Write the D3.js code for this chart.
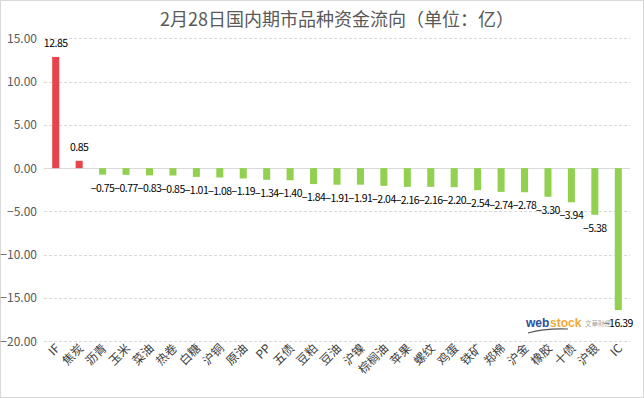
<!DOCTYPE html>
<html><head><meta charset="utf-8">
<script src="https://cdn.jsdelivr.net/npm/d3@7/dist/d3.min.js"></script>
<style>body{margin:0;background:#fff}svg{display:block}</style>
</head><body><svg id="c" width="644" height="398"></svg>
<script>
const categories = ["IF","焦炭","沥青","玉米","菜油","热卷","白糖","沪铜","原油","PP","五债","豆粕","豆油","沪镍","棕榈油","苹果","螺纹","鸡蛋","铁矿","郑棉","沪金","橡胶","十债","沪银","IC"];
const values = [12.85,0.85,-0.75,-0.77,-0.83,-0.85,-1.01,-1.08,-1.19,-1.34,-1.40,-1.84,-1.91,-1.91,-2.04,-2.16,-2.16,-2.20,-2.54,-2.74,-2.78,-3.30,-3.94,-5.38,-16.39];
const yTicks = [15,10,5,0,-5,-10,-15,-20];
const title = "2月28日国内期市品种资金流向（单位：亿）";

const svg = d3.select("#c");
const font = "'Noto Sans CJK SC','Microsoft YaHei',sans-serif";
svg.append("rect").attr("x",0.5).attr("y",0.5).attr("width",643).attr("height",397)
  .attr("fill","#fff").attr("stroke","#d9d9d9");

const x = d3.scaleBand().domain(categories).range([44,630]).paddingInner(0.7).paddingOuter(0.35);
const y = d3.scaleLinear().domain([-20,15]).range([341.3,38.3]);

// grid
svg.append("g").selectAll("line").data(yTicks.filter(d=>d!==0)).join("line")
  .attr("x1",44).attr("x2",630).attr("y1",d=>Math.round(y(d))+0.5).attr("y2",d=>Math.round(y(d))+0.5)
  .attr("stroke","#d9d9d9").attr("stroke-dasharray","3,2");
svg.append("line").attr("x1",44).attr("x2",630).attr("y1",Math.round(y(0))+0.5).attr("y2",Math.round(y(0))+0.5)
  .attr("stroke","#d9d9d9");

// y axis labels
const yAxis = d3.axisLeft(y).tickValues(yTicks).tickFormat(d3.format(".2f")).tickSize(0).tickPadding(0);
const ga = svg.append("g").attr("transform","translate(37,0)").call(yAxis);
ga.select(".domain").remove();
ga.selectAll("text").attr("fill","#595959").style("font-family",font).style("font-size","12px");

// bars
svg.append("g").selectAll("rect").data(values).join("rect")
  .attr("x",(d,i)=>x(categories[i]))
  .attr("width",x.bandwidth())
  .attr("y",d=>y(Math.max(0,d)))
  .attr("height",d=>Math.abs(y(d)-y(0)))
  .attr("fill",d=>d>=0?"#e8434b":"#92d050");

// value labels
svg.append("g").selectAll("text").data(values).join("text")
  .attr("x",(d,i)=>x(categories[i])+x.bandwidth()/2)
  .attr("y",d=>d>=0? y(d)-10 : y(d)+17)
  .attr("text-anchor","middle")
  .style("font-family",font).style("font-size","10.5px").attr("fill","#000")
  .style("letter-spacing","-0.5px")
  .text(d=>d3.format(".2f")(d));

// x labels
svg.append("g").selectAll("text").data(categories).join("text")
  .attr("transform",d=>`translate(${x(d)+x.bandwidth()/2+5},${349}) rotate(-45)`)
  .attr("text-anchor","end")
  .style("font-family",font).style("font-size","12px").attr("fill","#404040")
  .text(d=>d);

// title
svg.append("text").attr("x",337).attr("y",26).attr("text-anchor","middle")
  .style("font-family",font).style("font-size","18px").attr("fill","#595959").text(title);

// watermark
const wm = svg.append("g").attr("transform","translate(526,327)");
wm.append("text").style("font-family","Arial,sans-serif").style("font-size","12px").style("font-weight","bold")
  .attr("fill","#2a4f9b").text("web");
wm.append("text").attr("x",24).style("font-family","Arial,sans-serif").style("font-size","12px").style("font-weight","bold")
  .attr("fill","#f2a83a").text("stock");
wm.append("text").attr("x",59).attr("y",-1).style("font-family",font).style("font-size","6.5px")
  .attr("fill","#aaa").text("文華財經");
wm.append("path").attr("d","M2,6 Q20,1 42,2").attr("fill","none").attr("stroke","#555").attr("stroke-width",1.2);
</script></body></html>
